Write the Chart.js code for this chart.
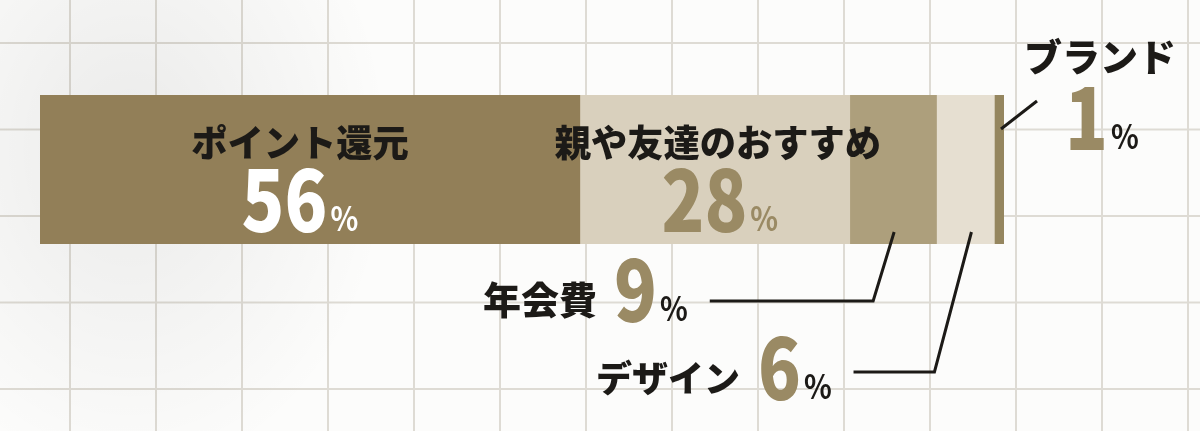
<!DOCTYPE html>
<html lang="ja">
<head>
<meta charset="utf-8">
<script src="https://cdn.jsdelivr.net/npm/chart.js@4"></script>
<style>
  html, body { margin:0; padding:0; width:1200px; height:431px; overflow:hidden; }
  body {
    background-color:#fcfcfb;
    background-image:
      radial-gradient(ellipse 260px 330px at 130px 150px, rgba(0,0,0,0.07), rgba(0,0,0,0) 100%),
      linear-gradient(to right, #dedbd4 2px, transparent 2px),
      linear-gradient(to bottom, #dedbd4 2px, transparent 2px);
    background-size: 100% 100%, 86px 86.5px, 86px 86.5px;
    background-position: 0 0, 69px 42px, 69px 42px;
  }
  #wrap { position:absolute; left:0; top:0; width:1200px; height:431px; }
</style>
</head>
<body>
<div id="wrap"><canvas id="c" width="1200" height="431"></canvas></div>
<script>
const categories = ['ポイント還元', '親や友達のおすすめ', '年会費', 'デザイン', 'ブランド'];
const values = [56, 28, 9, 6, 1];
const barColors = ['#927f58', '#d9d0bd', '#ad9f7c', '#e6dfd1', '#95865f'];

const JP = '"Noto Sans CJK JP", "Noto Sans", sans-serif';
const INK = '#1c1a17';
const OLIVE = '#9a8a64';

function txt(ctx, s, x, y, size, color, align, scaleX, weight) {
  ctx.save();
  ctx.font = (weight || '900') + ' ' + size + 'px ' + JP;
  ctx.fillStyle = color;
  ctx.textBaseline = 'alphabetic';
  const w = ctx.measureText(s).width * scaleX;
  let left = x;
  if (align === 'center') left = x - w / 2;
  else if (align === 'right') left = x - w;
  ctx.translate(left, y);
  ctx.scale(scaleX, 1);
  ctx.textAlign = 'left';
  ctx.fillText(s, 0, 0);
  ctx.restore();
  return w;
}
function measure(ctx, s, size, scaleX, weight) {
  ctx.save();
  ctx.font = (weight || '900') + ' ' + size + 'px ' + JP;
  const w = ctx.measureText(s).width * scaleX;
  ctx.restore();
  return w;
}
function pct(ctx, v, x, y, numColor, pctColor, align) {
  const ns = String(v);
  const wn = measure(ctx, ns, 84, 0.84, '900');
  const wp = measure(ctx, '%', 34, 0.85, 'bold');
  const gap = 3;
  const total = wn + gap + wp;
  let left = x;
  if (align === 'center') left = x - total / 2;
  else if (align === 'right') left = x - total;
  txt(ctx, ns, left, y, 84, numColor, 'left', 0.84, '900');
  txt(ctx, '%', left + wn + gap, y - 1, 34, pctColor, 'left', 0.85, 'bold');
  return total;
}
function line(ctx, pts) {
  ctx.save();
  ctx.strokeStyle = INK;
  ctx.lineWidth = 3;
  ctx.lineJoin = 'miter';
  ctx.beginPath();
  ctx.moveTo(pts[0][0], pts[0][1]);
  for (let i = 1; i < pts.length; i++) ctx.lineTo(pts[i][0], pts[i][1]);
  ctx.stroke();
  ctx.restore();
}

const labelPlugin = {
  id: 'labels',
  afterDatasetsDraw(chart) {
    const ctx = chart.ctx;
    const seg = values.map((v, i) => {
      const el = chart.getDatasetMeta(i).data[0];
      return { l: el.base, r: el.x, c: (el.base + el.x) / 2, t: el.y - el.height / 2, b: el.y + el.height / 2 };
    });
    // inner labels
    txt(ctx, categories[0], seg[0].c - 10, 157, 37, INK, 'center', 0.98);
    pct(ctx, values[0], seg[0].c - 10, 232, '#ffffff', '#ffffff', 'center');
    txt(ctx, categories[1], seg[1].c + 3, 157, 37, INK, 'center', 0.98);
    pct(ctx, values[1], seg[1].c + 5, 232, OLIVE, OLIVE, 'center');

    // 9% label
    const s2 = seg[2];
    line(ctx, [[s2.c + 1, s2.b - 12], [s2.c - 20, 301], [s2.l - 140, 301]]);
    txt(ctx, categories[2], 597, 314, 38, INK, 'right', 1);
    pct(ctx, values[2], 614, 322, OLIVE, INK, 'left');

    // 6% label
    const s3 = seg[3];
    line(ctx, [[s3.c + 6, s3.b - 12], [s3.c - 31, 372], [s3.l - 83, 372]]);
    txt(ctx, categories[3], 740, 392, 36, INK, 'right', 1);
    pct(ctx, values[3], 758, 400, OLIVE, INK, 'left');

    // 1% label
    const s4 = seg[4];
    line(ctx, [[s4.r - 3, 129], [s4.r + 33, 101]]);
    txt(ctx, categories[4], 1100, 71, 38, INK, 'center', 1);
    pct(ctx, values[4], 1102, 150, OLIVE, INK, 'center');
  }
};

new Chart(document.getElementById('c'), {
  type: 'bar',
  data: {
    labels: [''],
    datasets: values.map((v, i) => ({
      label: categories[i],
      data: [v],
      backgroundColor: barColors[i],
      borderWidth: 0,
      barPercentage: 1,
      categoryPercentage: 1
    }))
  },
  options: {
    indexAxis: 'y',
    responsive: false,
    animation: false,
    layout: { padding: { left: 40, right: 196, top: 95, bottom: 187 } },
    scales: {
      x: { stacked: true, min: 0, max: 100, display: false },
      y: { stacked: true, display: false }
    },
    plugins: { legend: { display: false }, tooltip: { enabled: false } }
  },
  plugins: [labelPlugin]
});
</script>
</body>
</html>
